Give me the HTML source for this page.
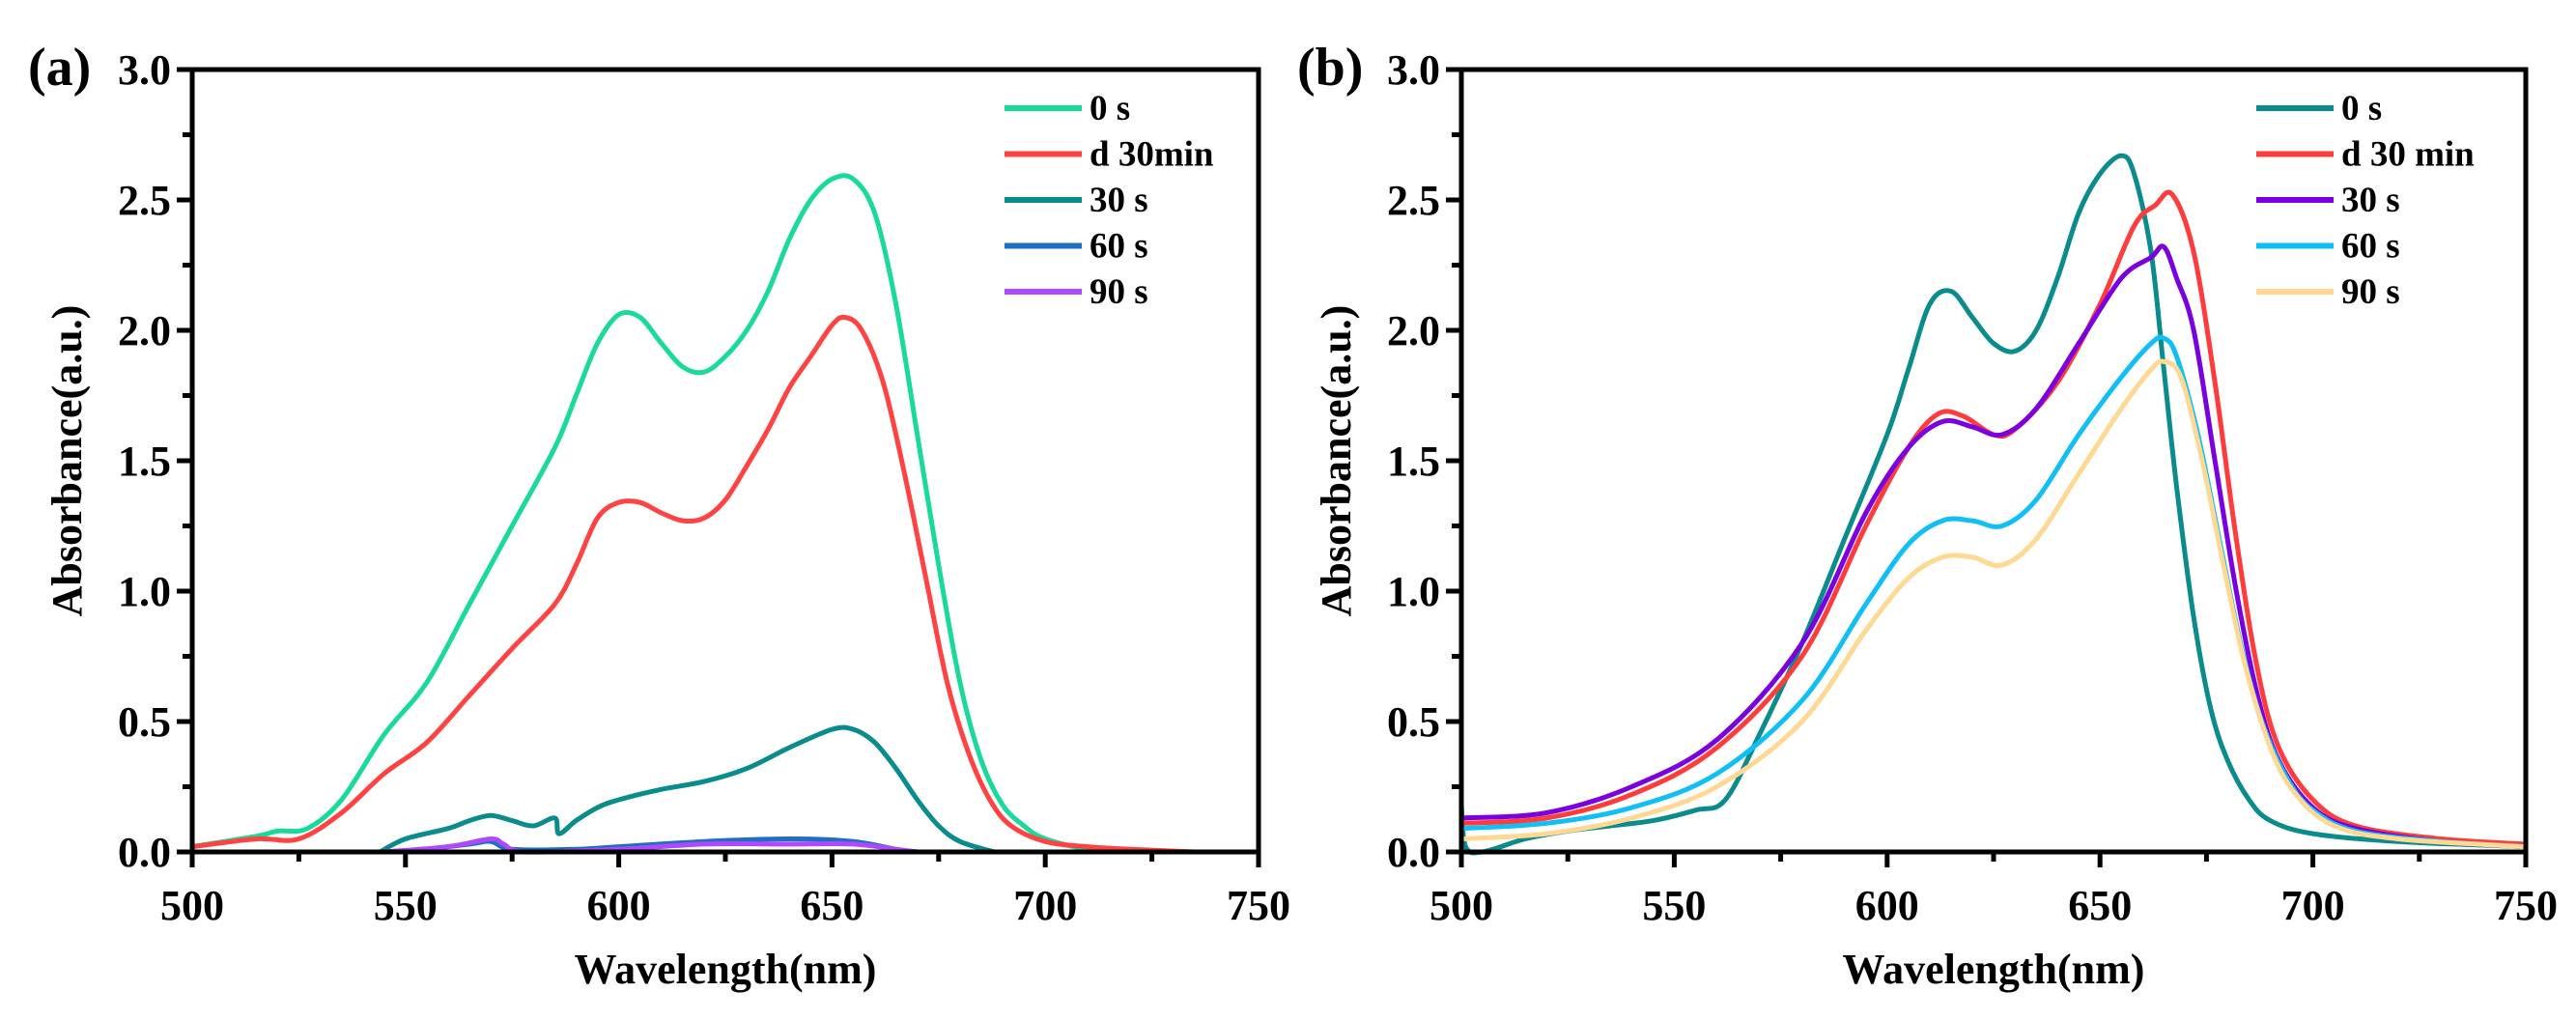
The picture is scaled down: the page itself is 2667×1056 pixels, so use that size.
<!DOCTYPE html>
<html><head><meta charset="utf-8"><style>
html,body{margin:0;padding:0;background:#fff;}
svg{display:block;font-family:"Liberation Serif",serif;font-weight:bold;}
</style></head><body>
<svg id="chart" width="2667" height="1056" viewBox="0 0 2667 1056"></svg>
<script>
// ---- Panel (a) data ----
const aSeriesNames = ["0 s","d 30min","30 s","60 s","90 s"];
const aColors = ["#1ad99c","#ff4343","#0a8c8c","#1f6fc0","#b048ff"];
const a0x = [500,515,520,527,535,545,555,565,575,585,590,595,600,605,610,615,620,625,630,635,640,645,650,655,660,665,670,675,680,685,690,695,700,710,720];
const a0y = [0.02,0.06,0.08,0.09,0.2,0.45,0.65,0.95,1.25,1.55,1.75,1.95,2.06,2.05,1.95,1.86,1.84,1.9,2.0,2.15,2.35,2.5,2.58,2.58,2.45,2.1,1.6,1.1,0.65,0.35,0.18,0.1,0.05,0.01,0];
const a1x = [500,515,525,535,545,555,565,575,585,590,595,600,605,610,615,620,625,630,635,640,645,650,653,657,662,667,672,677,682,687,692,700,710,720,735];
const a1y = [0.02,0.05,0.05,0.15,0.3,0.42,0.6,0.78,0.95,1.1,1.28,1.34,1.34,1.3,1.27,1.28,1.35,1.48,1.62,1.78,1.9,2.02,2.05,2.0,1.8,1.45,1.05,0.65,0.38,0.2,0.1,0.04,0.02,0.01,0];
const a2x = [544,550,560,565,570,575,580,585,586,590,595,600,610,620,630,640,650,655,660,665,670,675,680,688];
const a2y = [0,0.05,0.09,0.12,0.14,0.12,0.1,0.13,0.07,0.12,0.17,0.2,0.24,0.27,0.32,0.4,0.47,0.47,0.42,0.32,0.2,0.1,0.04,0];
const a3x = [550,565,570,575,590,600,620,640,655,665,670];
const a3y = [0,0.03,0.04,0.01,0.01,0.02,0.04,0.05,0.04,0.01,0];
const a4x = [545,560,570,573,578,600,620,640,655,665,670];
const a4y = [0,0.02,0.05,0.03,0,0.01,0.03,0.03,0.03,0.01,0];
// ---- Panel (b) data ----
const bSeriesNames = ["0 s","d 30 min","30 s","60 s","90 s"];
const bColors = ["#0a8c8c","#ff3c3c","#7a00e0","#12bff5","#ffd893"];
const b0x = [500,501,505,515,525,535,545,555,562,570,580,590,600,605,610,615,620,625,630,635,640,645,650,655,658,662,665,668,672,676,680,685,690,700,720,750];
const b0y = [0.18,0.02,0.0,0.05,0.08,0.1,0.12,0.16,0.2,0.45,0.8,1.2,1.6,1.85,2.1,2.15,2.05,1.95,1.92,2.0,2.2,2.45,2.6,2.67,2.6,2.3,1.85,1.4,0.9,0.55,0.35,0.2,0.12,0.07,0.04,0.02];
const b1x = [500,520,540,560,580,595,605,612,618,625,630,640,650,658,663,667,672,677,682,687,692,700,710,730,750];
const b1y = [0.11,0.13,0.22,0.4,0.75,1.25,1.55,1.68,1.67,1.6,1.62,1.8,2.1,2.4,2.48,2.52,2.3,1.8,1.2,0.7,0.4,0.2,0.1,0.05,0.03];
const b2x = [500,520,540,560,580,595,605,613,620,627,635,645,655,662,665,668,672,677,682,687,692,700,710,730,750];
const b2y = [0.13,0.15,0.25,0.43,0.8,1.3,1.55,1.65,1.63,1.6,1.7,1.95,2.2,2.28,2.32,2.2,2.0,1.5,1.0,0.6,0.35,0.17,0.09,0.04,0.02];
const b3x = [500,520,540,560,580,595,605,613,620,627,635,645,655,662,665,668,673,678,683,688,694,700,710,730,750];
const b3y = [0.09,0.11,0.17,0.3,0.58,0.95,1.18,1.27,1.27,1.25,1.35,1.6,1.82,1.95,1.97,1.9,1.6,1.2,0.8,0.5,0.28,0.16,0.08,0.04,0.02];
const b4x = [500,520,540,560,580,595,605,613,620,627,635,645,655,662,665,669,674,679,684,690,696,705,720,750];
const b4y = [0.05,0.07,0.13,0.25,0.5,0.85,1.05,1.13,1.13,1.1,1.2,1.45,1.7,1.85,1.88,1.82,1.5,1.1,0.72,0.4,0.22,0.1,0.05,0.02];
const xTicks = [500,550,600,650,700,750];
const yTicks = [0.0,0.5,1.0,1.5,2.0,2.5,3.0];

const NS="http://www.w3.org/2000/svg";
const svg=document.getElementById('chart');
function mk(tag,attrs,parent){const e=document.createElementNS(NS,tag);for(const k in attrs)e.setAttribute(k,attrs[k]);(parent||svg).appendChild(e);return e;}

const Y0=882, Y3=72;
function yScale(v){return Y0-(v/3)*(Y0-Y3);}

function smoothPath(pts){
  let d='M'+pts[0][0].toFixed(1)+' '+pts[0][1].toFixed(1);
  for(let i=0;i<pts.length-1;i++){
    const p0=pts[i-1]||pts[i],p1=pts[i],p2=pts[i+1],p3=pts[i+2]||p2;
    const c1x=p1[0]+(p2[0]-p0[0])/6,c1y=p1[1]+(p2[1]-p0[1])/6;
    const c2x=p2[0]-(p3[0]-p1[0])/6,c2y=p2[1]-(p3[1]-p1[1])/6;
    d+=` C${c1x.toFixed(1)} ${c1y.toFixed(1)} ${c2x.toFixed(1)} ${c2y.toFixed(1)} ${p2[0].toFixed(1)} ${p2[1].toFixed(1)}`;
  }
  return d;
}

function panel(cfg){
  const g=mk('g',{});
  
  
  const xs=v=>cfg.L+(v-500)/250*(cfg.R-cfg.L);
  cfg.series.forEach((s,i)=>{
    const pts=s.x.map((xv,j)=>[xs(xv),yScale(s.y[j])]);
    const p=mk('path',{d:smoothPath(pts),fill:'none',stroke:cfg.colors[i],'stroke-width':5,'stroke-linejoin':'round'},g);
    
    
  });
  const fr=mk('rect',{x:cfg.L,y:Y3,width:cfg.R-cfg.L,height:Y0-Y3,fill:'none',stroke:'#000','stroke-width':5},g);
  
  
  xTicks.forEach((t,i)=>{
    const x=xs(t);
    mk('line',{x1:x,x2:x,y1:Y0,y2:Y0+16,stroke:'#000','stroke-width':5},g);
    if(i<xTicks.length-1){const xm=xs(t+25);mk('line',{x1:xm,x2:xm,y1:Y0,y2:Y0+10,stroke:'#000','stroke-width':5},g);}
    const tx=mk('text',{x:x,y:952,'font-size':44,'text-anchor':'middle'},g);
    tx.textContent=String(t);
    
    
  });
  yTicks.forEach((t,i)=>{
    const y=yScale(t);
    mk('line',{x1:cfg.L-16,x2:cfg.L,y1:y,y2:y,stroke:'#000','stroke-width':5},g);
    if(i<yTicks.length-1){const ym=yScale(t+0.25);mk('line',{x1:cfg.L-10,x2:cfg.L,y1:ym,y2:ym,stroke:'#000','stroke-width':5},g);}
    const tx=mk('text',{x:cfg.L-22,y:y+15,'font-size':44,'text-anchor':'end'},g);
    tx.textContent=t.toFixed(1);
    
    
  });
  const xt=mk('text',{x:(cfg.L+cfg.R)/2,y:1018,'font-size':44,'text-anchor':'middle'},g);
  xt.textContent='Wavelength(nm)';
  
  
  const yt=mk('text',{x:0,y:0,'font-size':44,'text-anchor':'middle',transform:`translate(${cfg.L-115},${(Y0+Y3)/2}) rotate(-90)`},g);
  yt.textContent='Absorbance(a.u.)';
  
  
  const pl=mk('text',{x:cfg.L-170,y:88,'font-size':56,'text-anchor':'start'},g);
  pl.textContent=cfg.label;
  
  
  cfg.names.forEach((n,i)=>{
    const y=112+i*47.5;
    const ln=mk('line',{x1:cfg.legX,x2:cfg.legX+80,y1:y,y2:y,stroke:cfg.colors[i],'stroke-width':6},g);
    
    
    const lt=mk('text',{x:cfg.legX+88,y:y+12,'font-size':37,'text-anchor':'start'},g);
    lt.textContent=n;
    
    
  });
}
panel({name:'panel-a',prefix:'a',label:'(a)',L:199,R:1303,legX:1040,names:aSeriesNames,colors:aColors,
  series:[{x:a0x,y:a0y},{x:a1x,y:a1y},{x:a2x,y:a2y},{x:a3x,y:a3y},{x:a4x,y:a4y}]});
panel({name:'panel-b',prefix:'b',label:'(b)',L:1513,R:2615,legX:2336,names:bSeriesNames,colors:bColors,
  series:[{x:b0x,y:b0y},{x:b1x,y:b1y},{x:b2x,y:b2y},{x:b3x,y:b3y},{x:b4x,y:b4y}]});
</script>
</body></html>
